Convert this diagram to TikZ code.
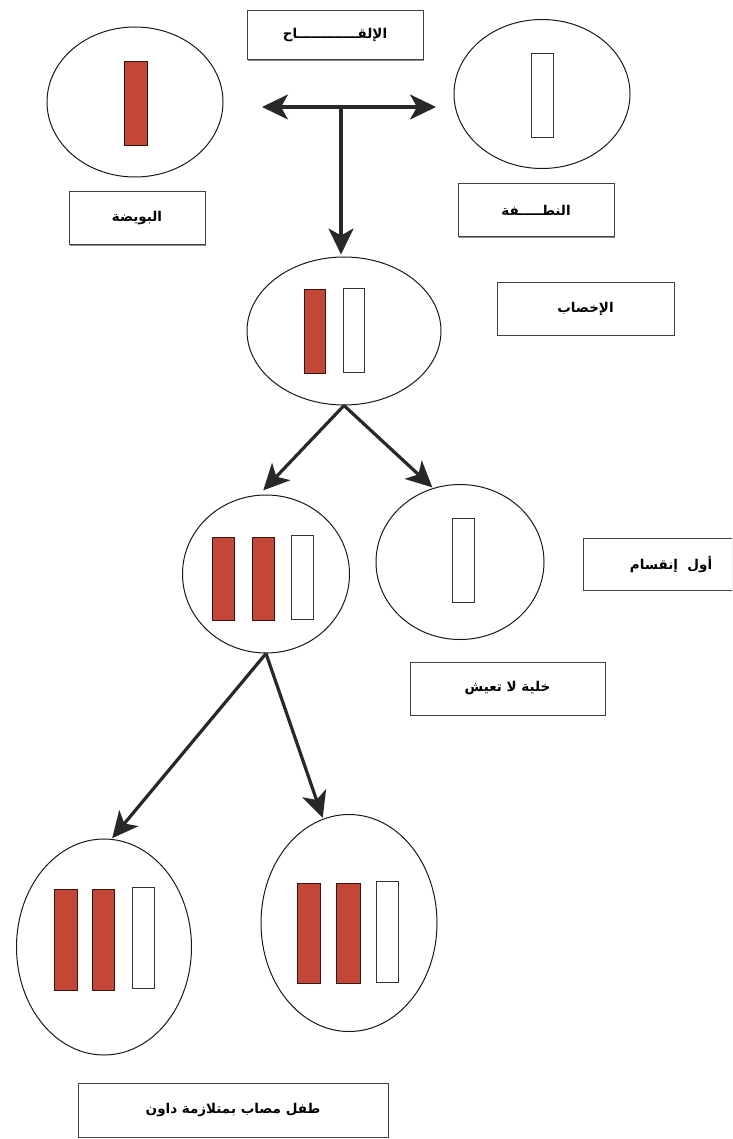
\documentclass[tikz,border=0pt]{standalone}
\usepackage{fontspec}
\usetikzlibrary{shapes.geometric,arrows.meta,shadows}
\newfontfamily\arabicfont[Script=Arabic]{DejaVu Sans}
\TeXXeTstate=1
\definecolor{chrred}{RGB}{196,70,54}
\definecolor{arrowgray}{RGB}{40,40,40}
\newcommand{\ar}[1]{{\arabicfont\bfseries\beginR #1\endR}}
\tikzset{
  bigtip/.tip={Stealth[length=26pt,width=25pt,inset=7pt]},
  cell/.style={ellipse, draw=black!90, line width=1pt, inner sep=0pt, fill=white},
  redchr/.style={rectangle, draw=black!70!chrred, line width=0.7pt, fill=chrred, inner sep=0pt},
  whitechr/.style={rectangle, draw=black!80, line width=0.8pt, fill=white, inner sep=0pt},
  labelbox/.style={rectangle, draw=black!75, line width=1pt, fill=white, inner sep=0pt,
     font=\fontsize{13.5}{16}\selectfont,
     drop shadow={shadow xshift=0.8pt, shadow yshift=-1.4pt, fill=black!45, opacity=1}},
  bigarrow/.style={draw=arrowgray, line width=3.2pt, -bigtip},
}
\begin{document}
\begin{tikzpicture}[x=1pt,y=-1pt]
\useasboundingbox (0,0) rectangle (732,1139);
\clip (0,0) rectangle (732,1139);
\fill[white] (0,0) rectangle (732,1139);

% cells
\node[cell, minimum width=176pt, minimum height=150pt] (ovum) at (135,102) {};
\node[cell, minimum width=176pt, minimum height=149pt] (sperm) at (542,94) {};
\node[cell, minimum width=194pt, minimum height=148pt] (zyg) at (344,331) {};
\node[cell, minimum width=167pt, minimum height=158pt] (tri) at (266,574) {};
\node[cell, minimum width=168pt, minimum height=155pt] (nul) at (460,562) {};
\node[cell, minimum width=175pt, minimum height=216pt] (bl) at (104,947) {};
\node[cell, minimum width=176pt, minimum height=217pt] (br) at (349,923) {};

% chromosomes
\node[redchr, minimum width=23pt, minimum height=84pt] (ovc) at (135.5,103) {};
\node[whitechr, minimum width=22pt, minimum height=84pt] (spc) at (542,95) {};
\node[redchr, minimum width=21pt, minimum height=84pt] (zc1) at (314.5,331) {};
\node[whitechr, minimum width=21pt, minimum height=84pt] (zc2) at (353.5,330) {};
\node[redchr, minimum width=22pt, minimum height=83pt] (tc1) at (223,578.5) {};
\node[redchr, minimum width=22pt, minimum height=83pt] (tc2) at (263,578.5) {};
\node[whitechr, minimum width=22pt, minimum height=84pt] (tc3) at (302,577) {};
\node[whitechr, minimum width=22pt, minimum height=84pt] (nc1) at (463,560) {};
\node[redchr, minimum width=23pt, minimum height=101pt] (bc1) at (65.5,939.5) {};
\node[redchr, minimum width=22pt, minimum height=101pt] (bc2) at (103,939.5) {};
\node[whitechr, minimum width=22pt, minimum height=101pt] (bc3) at (143,937.5) {};
\node[redchr, minimum width=23pt, minimum height=100pt] (rc1) at (308.5,933) {};
\node[redchr, minimum width=24pt, minimum height=100pt] (rc2) at (348,933) {};
\node[whitechr, minimum width=22pt, minimum height=101pt] (rc3) at (387,931.5) {};

% label boxes
\node[labelbox, minimum width=176pt, minimum height=49pt] (lqah) at (335,35.5) {\ar{الإلقـــــــــــــاح}};
\node[labelbox, minimum width=136pt, minimum height=53pt] (bwd) at (137,218.5) {\ar{البويضة}};
\node[labelbox, minimum width=156pt, minimum height=53pt] (ntf) at (536,210.5) {\ar{النطـــــفة}};
\node[labelbox, minimum width=177pt, minimum height=52pt] (ikh) at (585.5,309) {\ar{الإخصاب}};
\node[labelbox, minimum width=176pt, minimum height=52pt] (inq) at (671,564) {\ar{أول\ \ إنقسام}};
\node[labelbox, minimum width=195pt, minimum height=53pt] (khl) at (507.5,688.5) {\ar{خلية لا تعيش}};
\node[labelbox, minimum width=310pt, minimum height=54pt] (tfl) at (233,1110) {\ar{طفل مصاب بمتلازمة داون}};

% arrows
\coordinate (hl) at (262,107);
\coordinate (hr) at (436,107);
\coordinate (hj) at (341,107);
\draw[draw=arrowgray, line width=3.2pt, bigtip-bigtip] (hl) -- (hr);
\draw[bigarrow, shorten >=2pt] (hj) -- (hj |- zyg.north);
\draw[bigarrow, shorten >=6pt] (zyg.south) -- (tri.95);
\draw[bigarrow, shorten >=1pt] (zyg.south) -- (nul.110);
\draw[bigarrow, shorten >=1pt] (tri.south) -- (bl.86);
\draw[bigarrow, shorten >=1pt] (tri.south) -- (br.104);
\end{tikzpicture}
\end{document}
